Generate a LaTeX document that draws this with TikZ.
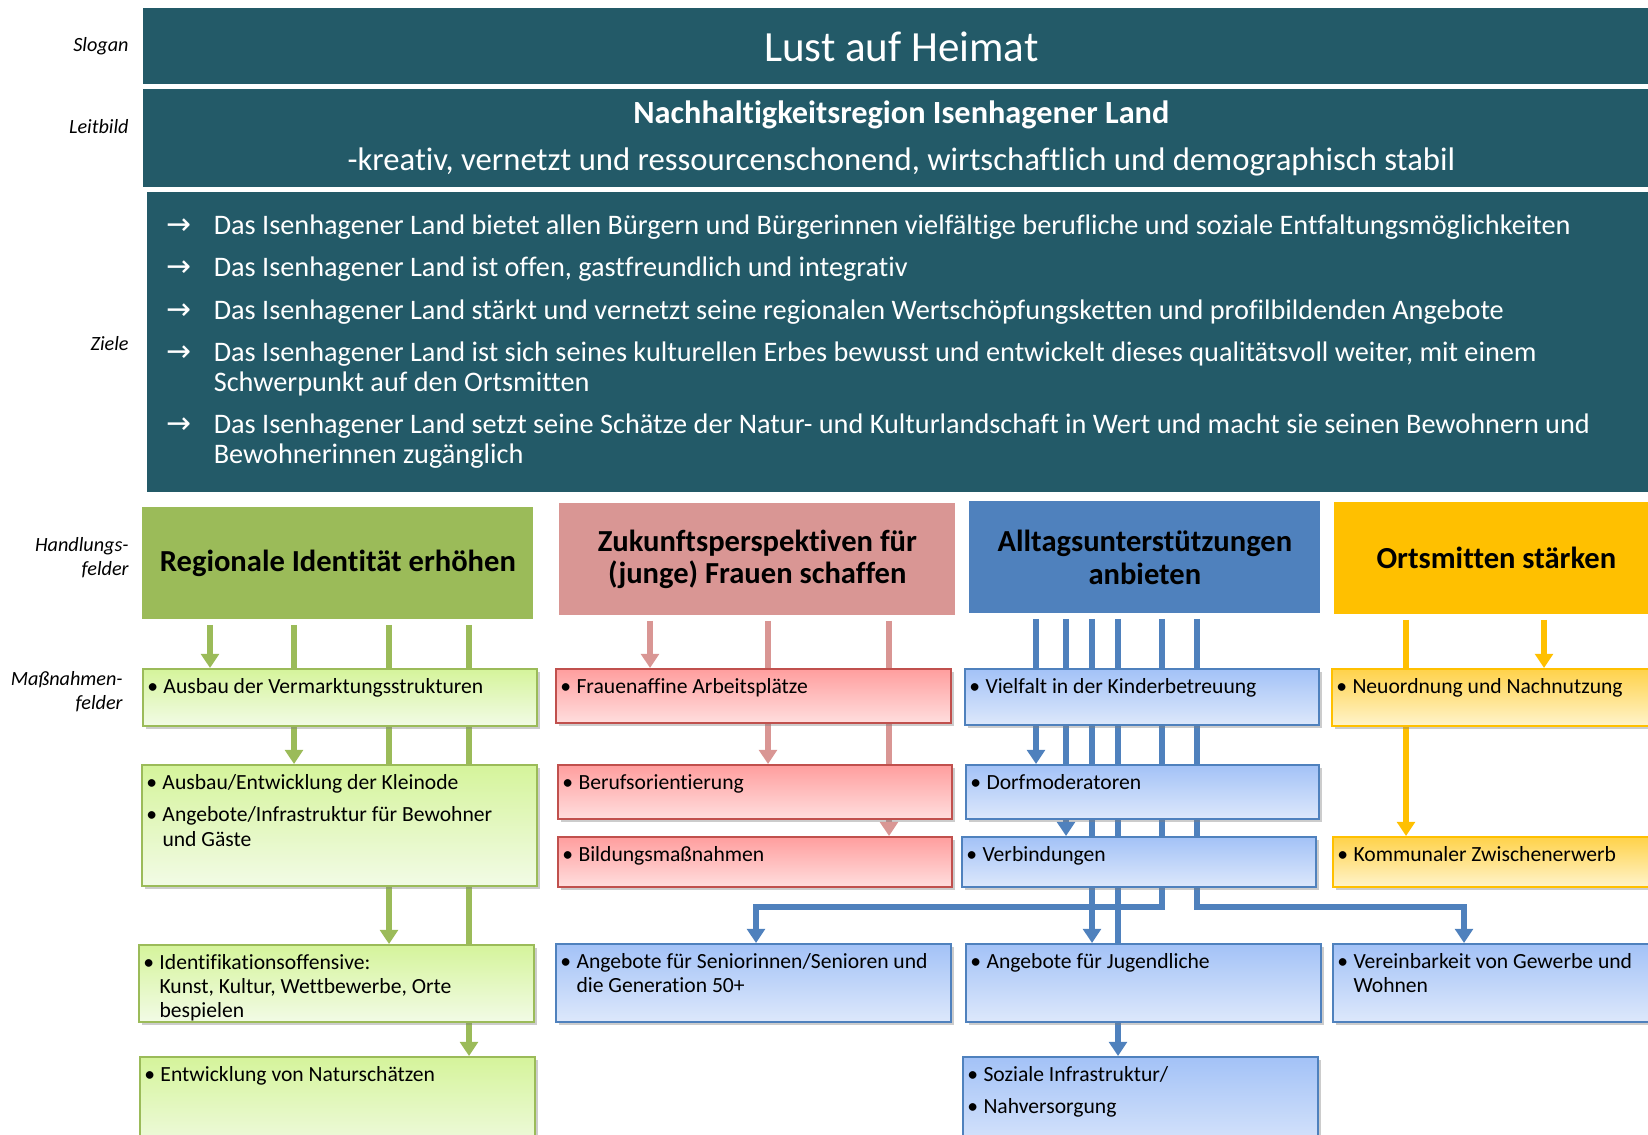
\documentclass[tikz,border=0pt]{standalone}
\usepackage{fontspec}
\setmainfont{Carlito}[Ligatures=NoCommon]
\newfontfamily\pfeilfont{DejaVu Sans}
\usetikzlibrary{arrows.meta,shadows,backgrounds}
\definecolor{leitteal}{HTML}{235A68}
\definecolor{hgruen}{HTML}{9BBB59}
\definecolor{hrosa}{HTML}{D99694}
\definecolor{hblau}{HTML}{4F81BD}
\definecolor{hgelb}{HTML}{FFC000}
\definecolor{rrot}{HTML}{C0504D}
\definecolor{grOben}{HTML}{D5F49B}
\definecolor{grUnten}{HTML}{F2FBE6}
\definecolor{rsOben}{HTML}{FF9E9E}
\definecolor{rsUnten}{HTML}{FFDEDE}
\definecolor{blOben}{HTML}{A3C2F7}
\definecolor{blUnten}{HTML}{DDE8FB}
\definecolor{geOben}{HTML}{FFD24A}
\definecolor{geUnten}{HTML}{FFF4CC}
\newcommand{\pxu}{0.02cm}
\newcommand{\itm}{\makebox[9.2pt][l]{\textbullet}}
\newcommand{\einr}{\hspace*{9.2pt}}
\newcommand{\zp}{{\pfeilfont\fontsize{17}{17}\selectfont →}}

\begin{document}
\begin{tikzpicture}[x=0.02cm,y=-0.02cm,
  kopf/.style={fill=leitteal, text=white, anchor=north west, inner sep=0pt},
  seite/.style={anchor=east, align=right, inner sep=0pt, font=\fontsize{11.5}{13.5}\selectfont\itshape},
  hfeld/.style={anchor=north west, inner sep=0pt, align=center, minimum height=112*\pxu, font=\fontsize{17.4}{18.6}\selectfont\bfseries},
  mfeld/.style={anchor=north west, inner sep=0pt, line width=1.2pt, drop shadow={shadow xshift=1.5pt, shadow yshift=-1.5pt, opacity=0.4}},
  mgruen/.style={mfeld, draw=hgruen, top color=grOben, bottom color=grUnten},
  mrosa/.style={mfeld, draw=rrot, top color=rsOben, bottom color=rsUnten},
  mblau/.style={mfeld, draw=hblau, top color=blOben, bottom color=blUnten},
  mgelb/.style={mfeld, draw=hgelb, top color=geOben, bottom color=geUnten},
  mtext/.style={anchor=north west, inner sep=0pt, align=left, font=\fontsize{12.3}{13.8}\selectfont},
  pfeil/.style={line width=3pt, shorten <=3pt, -{Triangle[width=10pt,length=8pt]}}]
  \useasboundingbox (0,0) rectangle (1648,1134);
  \clip (0,0) rectangle (1648,1134);

  \node[kopf, minimum width=1516*\pxu, minimum height=76*\pxu, font=\fontsize{24.5}{29}\selectfont] (slog) at (143,8) {Lust auf Heimat};
  \node[kopf, minimum width=1516*\pxu, minimum height=98*\pxu, align=center, font=\fontsize{18.6}{20}\selectfont] (leit) at (143,89)
    {{\bfseries\fontsize{18.4}{20}\selectfont Nachhaltigkeitsregion Isenhagener Land}\\[6.7pt]
     -kreativ, vernetzt und ressourcenschonend, wirtschaftlich und demographisch stabil};
  \node[kopf, minimum width=1512*\pxu, minimum height=300*\pxu] (ziel) at (147,192) {};
  \node[anchor=base west, inner sep=0pt, text=white, font=\fontsize{16.1}{17}\selectfont] (zielListe) at (166,234)
    {\begin{tabular}[t]{@{}p{27pt}@{}p{830pt}@{}}
      \zp & Das Isenhagener Land bietet allen Bürgern und Bürgerinnen vielfältige berufliche und soziale Entfaltungsmöglichkeiten\\[7.2pt]
      \zp & Das Isenhagener Land ist offen, gastfreundlich und integrativ\\[7.2pt]
      \zp & Das Isenhagener Land stärkt und vernetzt seine regionalen Wertschöpfungsketten und profilbildenden Angebote\\[7.2pt]
      \zp & Das Isenhagener Land ist sich seines kulturellen Erbes bewusst und entwickelt dieses qualitätsvoll weiter, mit einem\newline Schwerpunkt auf den Ortsmitten\\[7.2pt]
      \zp & Das Isenhagener Land setzt seine Schätze der Natur- und Kulturlandschaft in Wert und macht sie seinen Bewohnern und\newline Bewohnerinnen zugänglich
    \end{tabular}};

  \node[seite] (lSlogan) at (129,46) {Slogan};
  \node[seite] (lLeitbild) at (129,127) {Leitbild};
  \node[seite] (lZiele) at (129,344) {Ziele};
  \node[seite] (lHandlung) at (129,558) {Handlungs-\\felder};
  \node[seite] (lMassnahme) at (123,692) {Maßnahmen-\\felder};

  \node[hfeld, fill=hgruen, minimum width=391*\pxu] (hfReg) at (142,507) {Regionale Identität erhöhen};
  \node[hfeld, fill=hrosa, minimum width=396*\pxu] (hfZuk) at (559,503) {Zukunftsperspektiven für\\(junge) Frauen schaffen};
  \node[hfeld, fill=hblau, minimum width=351*\pxu] (hfAll) at (969,501) {Alltagsunterstützungen\\anbieten};
  \node[hfeld, fill=hgelb, minimum width=324*\pxu] (hfOrt) at (1334,502) {Ortsmitten stärken};

  \node[mgruen, minimum width=394*\pxu, minimum height=57*\pxu] (mVerm) at (142,668) {};
  \node[mgruen, minimum width=395*\pxu, minimum height=121*\pxu] (mKlein) at (141,764) {};
  \node[mgruen, minimum width=395*\pxu, minimum height=77*\pxu] (mIdent) at (138,944) {};
  \node[mgruen, minimum width=395*\pxu, minimum height=100*\pxu] (mNatur) at (139,1056) {};
  \node[mrosa, minimum width=395*\pxu, minimum height=54*\pxu] (mFrau) at (555,668) {};
  \node[mrosa, minimum width=394*\pxu, minimum height=54*\pxu] (mBeruf) at (557,764) {};
  \node[mrosa, minimum width=394*\pxu, minimum height=50*\pxu] (mBild) at (557,836) {};
  \node[mblau, minimum width=354*\pxu, minimum height=56*\pxu] (mKind) at (964,668) {};
  \node[mblau, minimum width=353*\pxu, minimum height=54*\pxu] (mDorf) at (965,764) {};
  \node[mblau, minimum width=354*\pxu, minimum height=50*\pxu] (mVerb) at (961,836) {};
  \node[mblau, minimum width=395*\pxu, minimum height=78*\pxu] (mSen) at (555,943) {};
  \node[mblau, minimum width=355*\pxu, minimum height=78*\pxu] (mJug) at (965,943) {};
  \node[mblau, minimum width=330*\pxu, minimum height=78*\pxu] (mVerein) at (1332,943) {};
  \node[mblau, minimum width=355*\pxu, minimum height=100*\pxu] (mSoz) at (962,1056) {};
  \node[mgelb, minimum width=330*\pxu, minimum height=57*\pxu] (mNeu) at (1331,668) {};
  \node[mgelb, minimum width=330*\pxu, minimum height=50*\pxu] (mKomm) at (1332,836) {};

  \node[mtext] (tVerm) at ([shift={(5,10)}]mVerm.north west) {\itm Ausbau der Vermarktungsstrukturen};
  \node[mtext] (tKlein) at ([shift={(5,10)}]mKlein.north west) {\itm Ausbau/Entwicklung der Kleinode\\[4.7pt]\itm Angebote/Infrastruktur für Bewohner\\\einr und Gäste};
  \node[mtext] (tIdent) at ([shift={(5,10)}]mIdent.north west) {\itm Identifikationsoffensive:\\\einr Kunst, Kultur, Wettbewerbe, Orte\\\einr bespielen};
  \node[mtext] (tNatur) at ([shift={(5,10)}]mNatur.north west) {\itm Entwicklung von Naturschätzen};
  \node[mtext] (tFrau) at ([shift={(5,10)}]mFrau.north west) {\itm Frauenaffine Arbeitsplätze};
  \node[mtext] (tBeruf) at ([shift={(5,10)}]mBeruf.north west) {\itm Berufsorientierung};
  \node[mtext] (tBild) at ([shift={(5,10)}]mBild.north west) {\itm Bildungsmaßnahmen};
  \node[mtext] (tKind) at ([shift={(5,10)}]mKind.north west) {\itm Vielfalt in der Kinderbetreuung};
  \node[mtext] (tDorf) at ([shift={(5,10)}]mDorf.north west) {\itm Dorfmoderatoren};
  \node[mtext] (tVerb) at ([shift={(5,10)}]mVerb.north west) {\itm Verbindungen};
  \node[mtext] (tSen) at ([shift={(5,10)}]mSen.north west) {\itm Angebote für Seniorinnen/Senioren und\\\einr die Generation 50+};
  \node[mtext] (tJug) at ([shift={(5,10)}]mJug.north west) {\itm Angebote für Jugendliche};
  \node[mtext] (tVerein) at ([shift={(5,10)}]mVerein.north west) {\itm Vereinbarkeit von Gewerbe und\\\einr Wohnen};
  \node[mtext] (tSoz) at ([shift={(5,10)}]mSoz.north west) {\itm Soziale Infrastruktur/\\[4.7pt]\itm Nahversorgung};
  \node[mtext] (tNeu) at ([shift={(5,10)}]mNeu.north west) {\itm Neuordnung und Nachnutzung};
  \node[mtext] (tKomm) at ([shift={(5,10)}]mKomm.north west) {\itm Kommunaler Zwischenerwerb};

  \coordinate (xg1) at (210,0); \coordinate (xg2) at (294,0);
  \coordinate (xg3) at (389,0); \coordinate (xg4) at (469,0);
  \coordinate (xr1) at (650,0); \coordinate (xr2) at (768,0); \coordinate (xr3) at (889,0);
  \coordinate (xb1) at (1036,0); \coordinate (xb2) at (1066,0); \coordinate (xb3) at (1092,0);
  \coordinate (xb4) at (1118,0); \coordinate (xb5) at (1162,0); \coordinate (xb6) at (1197,0);
  \coordinate (xsen) at (756,0); \coordinate (xverein) at (1464,0); \coordinate (yquer) at (0,907);
  \coordinate (xy1) at (1406,0); \coordinate (xy2) at (1544,0);

  \begin{scope}[on background layer]
    \draw[pfeil, hgruen] (hfReg.south -| xg1) -- (mVerm.north -| xg1);
    \draw[pfeil, hgruen] (hfReg.south -| xg2) -- (mKlein.north -| xg2);
    \draw[pfeil, hgruen] (hfReg.south -| xg3) -- (mIdent.north -| xg3);
    \draw[pfeil, hgruen] (hfReg.south -| xg4) -- (mNatur.north -| xg4);
    \draw[pfeil, hrosa] (hfZuk.south -| xr1) -- (mFrau.north -| xr1);
    \draw[pfeil, hrosa] (hfZuk.south -| xr2) -- (mBeruf.north -| xr2);
    \draw[pfeil, hrosa] (hfZuk.south -| xr3) -- (mBild.north -| xr3);
    \draw[pfeil, hblau] (hfAll.south -| xb1) -- (mDorf.north -| xb1);
    \draw[pfeil, hblau] (hfAll.south -| xb2) -- (mVerb.north -| xb2);
    \draw[pfeil, hblau] (hfAll.south -| xb3) -- (mJug.north -| xb3);
    \draw[pfeil, hblau] (hfAll.south -| xb4) -- (mSoz.north -| xb4);
    \draw[pfeil, hblau] (hfAll.south -| xb5) -- (xb5 |- yquer) -| (mSen.north -| xsen);
    \draw[pfeil, hblau] (hfAll.south -| xb6) -- (xb6 |- yquer) -| (mVerein.north -| xverein);
    \draw[pfeil, hgelb] (hfOrt.south -| xy1) -- (mKomm.north -| xy1);
    \draw[pfeil, hgelb] (hfOrt.south -| xy2) -- (mNeu.north -| xy2);
  \end{scope}
\end{tikzpicture}
\end{document}
